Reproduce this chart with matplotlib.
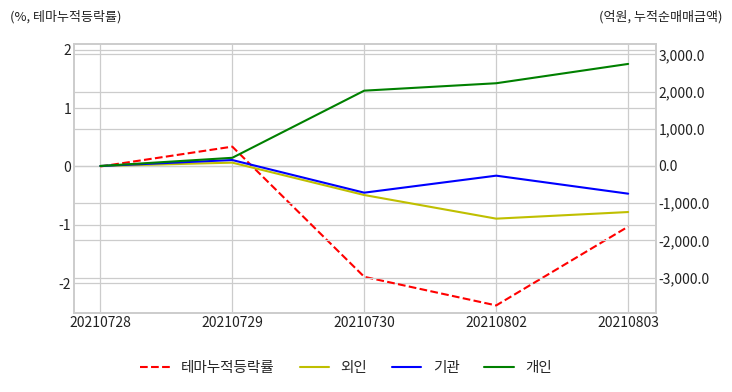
import matplotlib
matplotlib.use('Agg')
import matplotlib.pyplot as plt
from matplotlib.ticker import FuncFormatter

plt.style.use('seaborn-v0_8-whitegrid')
plt.rcParams['font.family'] = ['Noto Sans CJK KR', 'DejaVu Sans']
plt.rcParams['axes.unicode_minus'] = False

# Data
dates = ['20210728', '20210729', '20210730', '20210802', '20210803']
theme_rate = [0.0, 0.34, -1.89, -2.38, -1.03]      # %, 테마누적등락률
foreign = [0.0, 90.0, -780.0, -1415.0, -1237.0]     # 억원, 외인
institution = [0.0, 160.0, -717.0, -260.0, -744.0]  # 억원, 기관
individual = [0.0, 220.0, 2024.0, 2223.0, 2742.0]   # 억원, 개인

fig = plt.figure(figsize=(7.32, 3.92), dpi=100)
ax1 = fig.add_axes([0.101, 0.2015, 0.795, 0.6865])
ax2 = ax1.twinx()

x = list(range(len(dates)))
l1, = ax1.plot(x, theme_rate, color='r', linestyle='--', linewidth=1.5, label='테마누적등락률')
l2, = ax2.plot(x, foreign, color='y', linewidth=1.5, label='외인')
l3, = ax2.plot(x, institution, color='b', linewidth=1.5, label='기관')
l4, = ax2.plot(x, individual, color='g', linewidth=1.5, label='개인')

ax1.set_xlim(-0.2, 4.21)
ax1.set_xticks(x)
ax1.set_xticklabels(dates)
ax1.set_ylim(-2.51, 2.10)
ax1.set_yticks([-2, -1, 0, 1, 2])
ax2.set_ylim(-3950, 3280)
ax2.set_yticks([-3000, -2000, -1000, 0, 1000, 2000, 3000])
ax2.yaxis.set_major_formatter(FuncFormatter(lambda v, p: f'{v:,.1f}'))

for ax in (ax1, ax2):
    ax.tick_params(labelsize=10, colors='#222222', pad=2)
    ax.grid(True, color='#cccccc', linewidth=0.9)
    for s in ax.spines.values():
        s.set_color('#cccccc')
        s.set_linewidth(1.2)

fig.text(0.013, 0.958, '(%, 테마누적등락률)', fontsize=9.4, color='#222222', va='center', ha='left')
fig.text(0.987, 0.958, '(억원, 누적순매매금액)', fontsize=9.4, color='#222222', va='center', ha='right')

fig.legend(handles=[l1, l2, l3, l4], loc='center', bbox_to_anchor=(0.473, 0.06),
           ncol=4, frameon=False, fontsize=10.5, handlelength=2.0, columnspacing=1.7)

fig.savefig('out.png', dpi=100)
